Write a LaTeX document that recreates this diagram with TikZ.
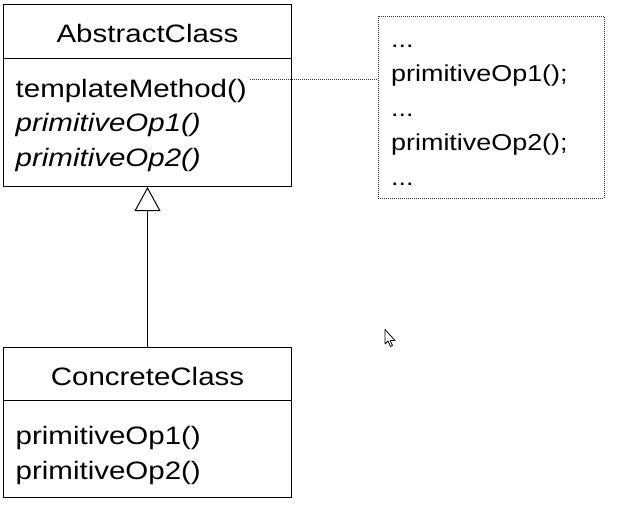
\documentclass[tikz,border=0pt]{standalone}
\usepackage{fontspec}
\setmainfont{Liberation Sans}[FakeStretch=1.17]
\usetikzlibrary{arrows.meta}
\begin{document}
\begin{tikzpicture}[x=1pt,y=-1pt,
  box/.style={draw,line width=1pt,minimum width=288pt,inner sep=0pt},
  cname/.style={anchor=base,inner sep=0pt,font=\fontsize{25.2}{30}\selectfont},
  member/.style={anchor=base west,inner sep=0pt,font=\fontsize{25.2}{30}\selectfont},
  code/.style={anchor=base west,inner sep=0pt,font=\fontsize{23}{28}\selectfont},
  dots/.style={draw=black!80,line width=1pt,dash pattern=on 1pt off 1pt}]
\useasboundingbox (0,0) rectangle (620,520);
\node[box,minimum height=54pt] (absHead) at (147.5,31.5) {};
\node[box,minimum height=128pt] (absBody) at (147.5,122.5) {};
\node[cname] (absName) at (147.5,42) {AbstractClass};
\node[member] (tmpl) at (15.5,97) {templateMethod()};
\node[member] (absOp1) at (15.5,131.5) {\itshape primitiveOp1()};
\node[member] (absOp2) at (15.5,166) {\itshape primitiveOp2()};
\node[box,minimum height=53.5pt] (conHead) at (147.5,373.75) {};
\node[box,minimum height=96.5pt] (conBody) at (147.5,448.75) {};
\node[cname] (conName) at (147.5,385) {ConcreteClass};
\node[member] (conOp1) at (15.5,444) {primitiveOp1()};
\node[member] (conOp2) at (15.5,479) {primitiveOp2()};
\draw[line width=1pt,-{Triangle[open,width=26pt,length=24pt]}] (conHead.north) -- (absBody.south);
\node[dots,minimum width=226pt,minimum height=182pt,inner sep=0pt] (note) at (491,107) {};
\node[code] (dots1) at (391,47) {...};
\node[code] (call1) at (391,81.5) {primitiveOp1();};
\node[code] (dots2) at (391,116) {...};
\node[code] (call2) at (391,150.5) {primitiveOp2();};
\node[code] (dots3) at (391,185) {...};
\coordinate (tmplEnd) at (250,79);
\draw[dots] (tmplEnd) -- (note.west |- tmplEnd);
\draw[fill=white,line width=0.8pt,line join=round] (385,329.5) -- (385,344) -- (388,341) -- (390.5,346.5) -- (392.5,345.5) -- (390.2,340.5) -- (395,340.5) -- cycle;
\end{tikzpicture}
\end{document}
